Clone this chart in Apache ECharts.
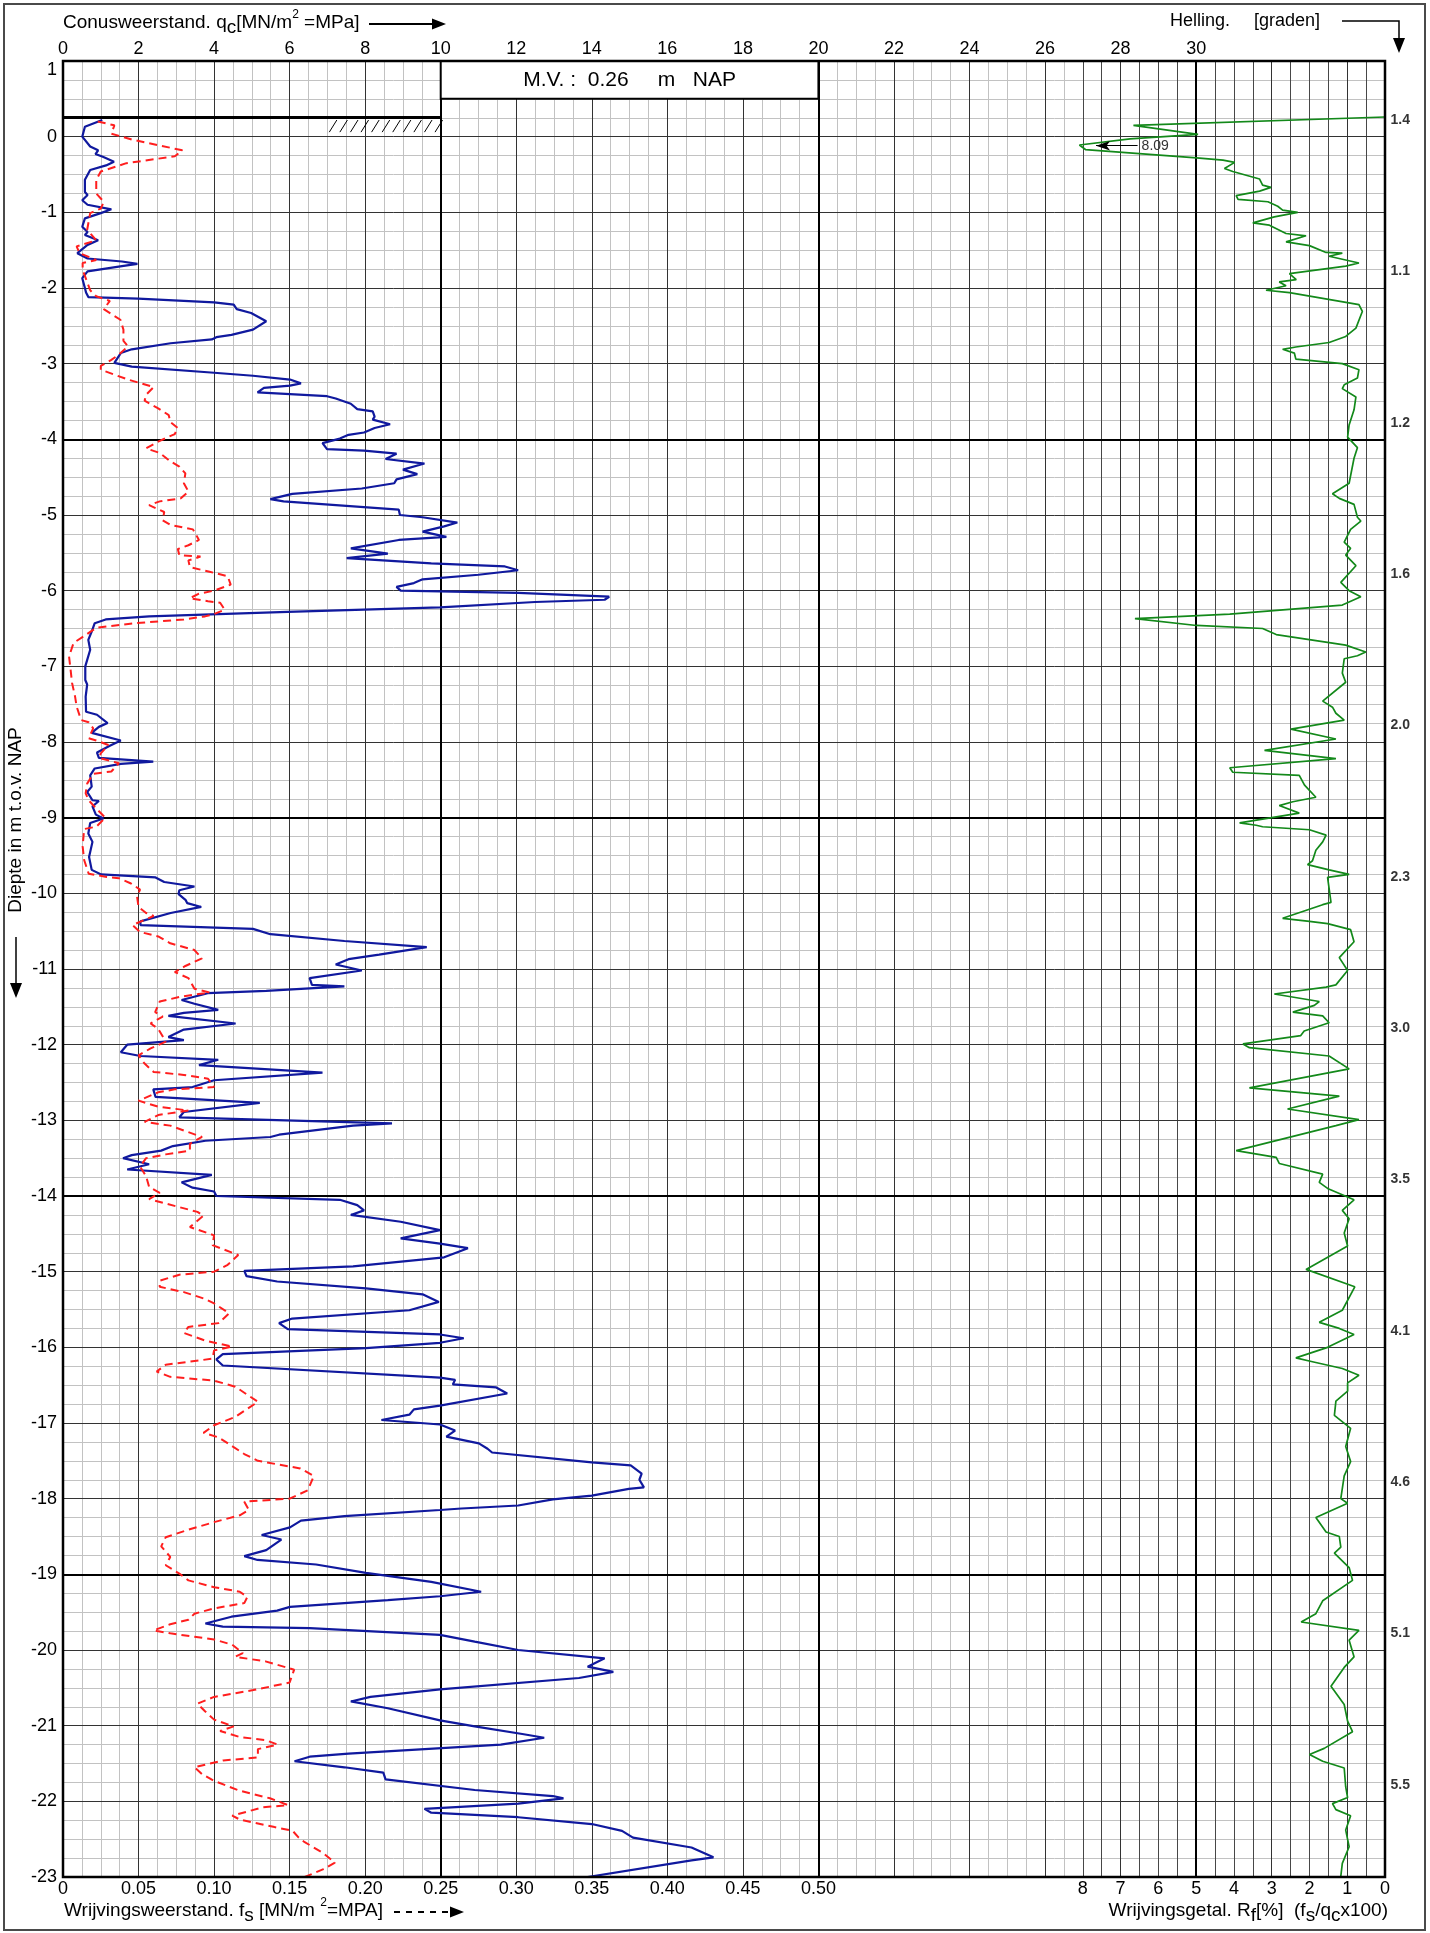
<!DOCTYPE html>
<html>
<head>
<meta charset="utf-8">
<title>Sondering</title>
<script src="https://cdn.jsdelivr.net/npm/echarts@6/dist/echarts.min.js"></script>
<style>
  html, body { margin: 0; padding: 0; background: #fff; }
  #chart { width: 1430px; height: 1933px; }
</style>
</head>
<body>
<div id="chart"></div>
<script>
var mvLevel = 0.26;            // maaiveld, m NAP
var qcLabelMax = 30;           // top scale is labelled 0..30
var fsLabelMax = 0.5;          // bottom fs scale is labelled 0..0.50
var rfLabelMax = 8;            // bottom Rf scale is labelled 8..0
var boldDepths = [-4, -9, -14, -19];

// conusweerstand qc [MPa]
var qcDepth = [
  0.22, 0.13, 0.00, -0.13, -0.18, -0.23, -0.27, -0.33, -0.38, -0.44,
  -0.57, -0.73, -0.77, -0.84, -0.90, -0.96, -1.01, -1.08, -1.19, -1.26,
  -1.30, -1.37, -1.43, -1.54, -1.61, -1.65, -1.68, -1.71, -1.78, -1.87,
  -2.00, -2.06, -2.12, -2.14, -2.19, -2.22, -2.28, -2.33, -2.44, -2.55,
  -2.62, -2.65, -2.68, -2.73, -2.81, -2.86, -2.99, -3.04, -3.12, -3.16,
  -3.21, -3.26, -3.29, -3.32, -3.38, -3.43, -3.46, -3.53, -3.60, -3.63,
  -3.70, -3.74, -3.80, -3.85, -3.91, -3.94, -3.99, -4.05, -4.13, -4.15,
  -4.19, -4.26, -4.32, -4.40, -4.46, -4.53, -4.58, -4.65, -4.72, -4.79,
  -4.82, -4.93, -5.00, -5.03, -5.10, -5.15, -5.22, -5.29, -5.33, -5.44,
  -5.51, -5.57, -5.64, -5.68, -5.73, -5.79, -5.85, -5.90, -5.95, -6.00,
  -6.03, -6.08, -6.12, -6.15, -6.22, -6.28, -6.34, -6.38, -6.43, -6.54,
  -6.65, -6.78, -7.00, -7.18, -7.24, -7.40, -7.60, -7.64, -7.75, -7.80,
  -7.88, -7.98, -8.05, -8.14, -8.21, -8.26, -8.29, -8.35, -8.44, -8.59,
  -8.66, -8.77, -8.78, -8.85, -8.96, -9.01, -9.07, -9.21, -9.32, -9.52,
  -9.69, -9.75, -9.79, -9.85, -9.91, -9.96, -10.01, -10.09, -10.13, -10.18,
  -10.26, -10.37, -10.42, -10.47, -10.54, -10.63, -10.71, -10.81, -10.87, -10.94,
  -11.02, -11.12, -11.21, -11.23, -11.29, -11.32, -11.41, -11.46, -11.54, -11.58,
  -11.62, -11.72, -11.80, -11.90, -11.94, -12.00, -12.10, -12.15, -12.20, -12.27,
  -12.37, -12.47, -12.56, -12.59, -12.69, -12.77, -12.89, -12.96, -13.04, -13.07,
  -13.19, -13.22, -13.27, -13.34, -13.40, -13.46, -13.50, -13.58, -13.65, -13.72,
  -13.82, -13.89, -13.94, -14.00, -14.05, -14.12, -14.19, -14.25, -14.34, -14.45,
  -14.56, -14.63, -14.69, -14.81, -14.93, -14.99, -15.06, -15.13, -15.22, -15.30,
  -15.40, -15.51, -15.62, -15.68, -15.76, -15.83, -15.88, -15.94, -16.01, -16.09,
  -16.16, -16.24, -16.40, -16.43, -16.49, -16.53, -16.61, -16.77, -16.82, -16.89,
  -16.96, -17.02, -17.10, -17.18, -17.27, -17.34, -17.39, -17.52, -17.56, -17.67,
  -17.75, -17.85, -17.87, -17.96, -18.01, -18.09, -18.13, -18.15, -18.23, -18.29,
  -18.38, -18.48, -18.54, -18.68, -18.76, -18.81, -18.87, -18.98, -19.10, -19.23,
  -19.29, -19.34, -19.43, -19.48, -19.56, -19.65, -19.69, -19.71, -19.80, -19.89,
  -20.00, -20.11, -20.22, -20.29, -20.37, -20.52, -20.62, -20.68, -20.77, -20.93,
  -21.01, -21.11, -21.16, -21.25, -21.37, -21.41, -21.47, -21.55, -21.62, -21.71,
  -21.85, -21.93, -21.96, -22.03, -22.10, -22.15, -22.21, -22.30, -22.39, -22.48,
  -22.61, -22.74, -22.78, -23.00
];
var qcValue = [
  1.04, 0.58, 0.51, 0.72, 0.93, 0.86, 1.07, 1.35, 1.14, 0.72,
  0.58, 0.58, 0.65, 0.51, 0.65, 1.28, 1.00, 0.58, 0.51, 0.65,
  0.58, 0.93, 0.65, 0.38, 0.65, 1.56, 1.97, 1.56, 0.65, 0.51,
  0.58, 0.61, 0.67, 1.99, 4.00, 4.52, 4.60, 4.98, 5.38, 5.03,
  4.46, 4.06, 3.94, 2.85, 1.82, 1.53, 1.36, 1.82, 4.00, 5.03,
  6.01, 6.30, 6.01, 5.32, 5.15, 6.99, 7.22, 7.62, 7.79, 8.20,
  8.25, 8.20, 8.66, 8.25, 7.97, 7.56, 7.33, 6.87, 6.99, 7.97,
  8.83, 8.54, 9.57, 9.00, 9.38, 8.83, 8.77, 7.91, 6.07, 5.49,
  5.84, 8.89, 8.92, 9.52, 10.44, 10.09, 9.52, 10.15, 8.89, 7.62,
  8.60, 7.51, 9.75, 11.70, 12.05, 11.00, 9.52, 9.29, 8.83, 8.94,
  12.05, 14.46, 14.34, 12.50, 9.98, 5.95, 2.28, 1.13, 0.84, 0.76,
  0.67, 0.72, 0.59, 0.59, 0.64, 0.60, 0.61, 0.90, 1.18, 0.95,
  0.76, 1.53, 1.24, 0.90, 0.95, 2.39, 1.53, 0.84, 0.72, 0.76,
  0.64, 0.78, 0.95, 0.78, 0.87, 1.07, 0.72, 0.67, 0.78, 0.69,
  0.76, 1.01, 2.45, 2.68, 3.48, 3.08, 3.06, 3.25, 3.29, 3.66,
  2.85, 2.05, 2.05, 5.03, 5.49, 7.45, 9.63, 8.37, 7.56, 7.22,
  7.91, 6.53, 6.59, 7.45, 5.38, 3.83, 3.14, 3.48, 4.11, 3.20,
  2.79, 4.57, 3.20, 2.79, 3.20, 1.70, 1.53, 2.05, 4.11, 3.60,
  6.87, 4.00, 3.43, 2.39, 2.45, 5.21, 3.20, 3.08, 8.71, 7.68,
  5.72, 5.49, 3.77, 2.91, 2.60, 1.82, 1.59, 2.28, 1.70, 3.94,
  3.14, 3.43, 4.00, 4.06, 7.33, 7.79, 7.97, 7.62, 8.94, 9.98,
  8.94, 9.98, 10.72, 10.09, 7.68, 4.80, 4.86, 5.67, 8.02, 9.52,
  9.95, 9.17, 6.07, 5.72, 5.95, 9.98, 10.61, 9.98, 8.02, 4.23,
  4.06, 4.23, 9.98, 10.38, 10.32, 11.47, 11.76, 9.98, 9.29, 9.17,
  8.43, 9.98, 10.38, 10.15, 11.01, 11.24, 11.36, 14.00, 15.03, 15.32,
  15.26, 15.38, 14.98, 14.00, 12.97, 12.05, 10.55, 9.98, 7.45, 6.30,
  6.01, 5.26, 5.78, 5.38, 4.80, 5.15, 6.70, 8.02, 9.75, 11.07,
  9.98, 8.60, 6.01, 5.67, 4.46, 3.77, 4.23, 6.53, 9.98, 10.90,
  12.05, 14.34, 13.89, 14.57, 13.66, 9.98, 8.14, 7.62, 8.60, 9.98,
  10.90, 12.16, 12.74, 11.59, 7.56, 6.53, 6.13, 7.45, 8.48, 8.54,
  10.90, 12.97, 13.25, 12.05, 9.57, 9.75, 12.05, 14.00, 14.80, 15.09,
  16.64, 17.22, 16.64, 13.89
];

// wrijvingsweerstand fs [MPa]
var fsDepth = [
  0.20, 0.15, 0.04, -0.04, -0.18, -0.26, -0.35, -0.46, -0.57, -0.75,
  -0.86, -0.95, -1.01, -1.23, -1.37, -1.45, -1.54, -1.63, -1.67, -1.76,
  -2.03, -2.11, -2.17, -2.28, -2.42, -2.55, -2.70, -2.77, -2.88, -2.95,
  -3.03, -3.08, -3.21, -3.31, -3.41, -3.49, -3.59, -3.68, -3.77, -3.85,
  -3.93, -4.03, -4.12, -4.18, -4.29, -4.36, -4.45, -4.58, -4.69, -4.78,
  -4.82, -4.87, -4.96, -5.07, -5.13, -5.19, -5.33, -5.40, -5.45, -5.53,
  -5.55, -5.60, -5.69, -5.75, -5.81, -5.92, -6.00, -6.04, -6.10, -6.14,
  -6.16, -6.25, -6.31, -6.34, -6.38, -6.43, -6.49, -6.60, -6.69, -6.87,
  -7.04, -7.22, -7.40, -7.53, -7.71, -7.74, -7.82, -7.95, -7.98, -8.04,
  -8.15, -8.21, -8.28, -8.39, -8.42, -8.55, -8.68, -8.77, -8.88, -9.00,
  -9.12, -9.15, -9.38, -9.56, -9.74, -9.78, -9.80, -9.87, -9.95, -10.04,
  -10.18, -10.26, -10.30, -10.35, -10.42, -10.51, -10.57, -10.66, -10.75, -10.86,
  -10.96, -11.04, -11.12, -11.26, -11.31, -11.37, -11.43, -11.57, -11.63, -11.72,
  -11.79, -11.96, -12.05, -12.14, -12.25, -12.36, -12.40, -12.45, -12.56, -12.59,
  -12.63, -12.74, -12.82, -12.87, -12.93, -13.02, -13.07, -13.22, -13.31, -13.40,
  -13.45, -13.50, -13.61, -13.74, -13.88, -13.96, -14.04, -14.10, -14.21, -14.26,
  -14.41, -14.52, -14.65, -14.78, -14.91, -15.00, -15.04, -15.12, -15.20, -15.27,
  -15.36, -15.42, -15.55, -15.68, -15.73, -15.81, -15.91, -15.99, -16.04, -16.15,
  -16.23, -16.32, -16.39, -16.44, -16.52, -16.72, -16.92, -17.03, -17.13, -17.19,
  -17.32, -17.41, -17.50, -17.60, -17.70, -17.89, -18.00, -18.04, -18.15, -18.22,
  -18.31, -18.41, -18.51, -18.63, -18.77, -18.88, -18.99, -19.08, -19.17, -19.23,
  -19.30, -19.38, -19.45, -19.52, -19.60, -19.66, -19.74, -19.78, -19.86, -19.93,
  -20.04, -20.09, -20.15, -20.26, -20.43, -20.53, -20.62, -20.71, -20.81, -20.92,
  -21.01, -21.07, -21.15, -21.19, -21.25, -21.31, -21.42, -21.46, -21.55, -21.64,
  -21.73, -21.86, -21.96, -22.05, -22.08, -22.19, -22.24, -22.34, -22.39, -22.48,
  -22.54, -22.68, -22.81, -22.90, -23.00
];
var fsValue = [
  0.023, 0.034, 0.032, 0.046, 0.079, 0.074, 0.042, 0.025, 0.022, 0.022,
  0.027, 0.025, 0.018, 0.016, 0.022, 0.009, 0.011, 0.022, 0.013, 0.013,
  0.018, 0.022, 0.031, 0.027, 0.038, 0.040, 0.040, 0.043, 0.037, 0.032,
  0.025, 0.025, 0.043, 0.060, 0.055, 0.054, 0.063, 0.070, 0.071, 0.076,
  0.074, 0.063, 0.055, 0.064, 0.071, 0.077, 0.081, 0.080, 0.083, 0.078,
  0.064, 0.057, 0.067, 0.066, 0.071, 0.086, 0.090, 0.083, 0.076, 0.077,
  0.091, 0.083, 0.084, 0.097, 0.109, 0.111, 0.100, 0.090, 0.084, 0.096,
  0.104, 0.107, 0.100, 0.094, 0.080, 0.048, 0.022, 0.014, 0.007, 0.004,
  0.005, 0.006, 0.008, 0.009, 0.012, 0.017, 0.020, 0.017, 0.022, 0.030,
  0.025, 0.024, 0.037, 0.032, 0.020, 0.016, 0.015, 0.017, 0.022, 0.028,
  0.022, 0.014, 0.013, 0.014, 0.017, 0.028, 0.037, 0.045, 0.051, 0.049,
  0.050, 0.055, 0.060, 0.054, 0.046, 0.051, 0.063, 0.071, 0.087, 0.092,
  0.081, 0.074, 0.083, 0.087, 0.097, 0.077, 0.064, 0.061, 0.066, 0.058,
  0.063, 0.068, 0.058, 0.050, 0.054, 0.060, 0.080, 0.096, 0.100, 0.074,
  0.063, 0.050, 0.063, 0.083, 0.063, 0.054, 0.071, 0.092, 0.084, 0.084,
  0.068, 0.055, 0.051, 0.055, 0.057, 0.064, 0.057, 0.068, 0.089, 0.093,
  0.084, 0.100, 0.099, 0.116, 0.109, 0.100, 0.077, 0.064, 0.064, 0.080,
  0.094, 0.100, 0.110, 0.103, 0.083, 0.080, 0.094, 0.112, 0.100, 0.099,
  0.068, 0.062, 0.071, 0.100, 0.114, 0.129, 0.114, 0.100, 0.093, 0.103,
  0.113, 0.120, 0.129, 0.157, 0.166, 0.162, 0.150, 0.120, 0.123, 0.117,
  0.100, 0.083, 0.068, 0.065, 0.071, 0.068, 0.077, 0.083, 0.100, 0.117,
  0.122, 0.120, 0.100, 0.087, 0.083, 0.071, 0.060, 0.071, 0.100, 0.112,
  0.119, 0.114, 0.134, 0.153, 0.150, 0.126, 0.100, 0.089, 0.094, 0.100,
  0.113, 0.104, 0.117, 0.134, 0.142, 0.129, 0.129, 0.106, 0.087, 0.092,
  0.100, 0.117, 0.137, 0.149, 0.132, 0.112, 0.117, 0.140, 0.152, 0.156,
  0.160, 0.172, 0.180, 0.172, 0.160
];

// wrijvingsgetal Rf [%]
var rfDepth = [
  0.26, 0.15, 0.03, -0.03, -0.11, -0.17, -0.28, -0.31, -0.34, -0.42,
  -0.46, -0.56, -0.64, -0.67, -0.72, -0.78, -0.83, -0.86, -0.92, -0.97,
  -1.00, -1.06, -1.14, -1.17, -1.28, -1.31, -1.39, -1.44, -1.53, -1.54,
  -1.58, -1.67, -1.71, -1.81, -1.89, -1.92, -1.97, -2.03, -2.06, -2.22,
  -2.31, -2.53, -2.64, -2.72, -2.78, -2.81, -2.86, -2.94, -3.00, -3.08,
  -3.19, -3.28, -3.33, -3.44, -3.61, -3.81, -3.97, -4.11, -4.25, -4.58,
  -4.72, -4.78, -4.86, -5.03, -5.08, -5.19, -5.36, -5.44, -5.53, -5.67,
  -5.89, -6.00, -6.08, -6.19, -6.31, -6.37, -6.46, -6.50, -6.58, -6.72,
  -6.81, -6.86, -6.90, -7.09, -7.21, -7.46, -7.54, -7.62, -7.71, -7.83,
  -7.96, -8.11, -8.22, -8.34, -8.40, -8.44, -8.57, -8.73, -8.79, -8.84,
  -8.94, -9.07, -9.10, -9.12, -9.16, -9.23, -9.32, -9.43, -9.57, -9.62,
  -9.69, -9.75, -9.79, -10.12, -10.15, -10.33, -10.37, -10.40, -10.48, -10.64,
  -10.85, -11.02, -11.21, -11.24, -11.33, -11.43, -11.48, -11.57, -11.62, -11.71,
  -11.82, -11.88, -11.99, -12.04, -12.15, -12.32, -12.57, -12.68, -12.85, -12.99,
  -13.07, -13.40, -13.49, -13.57, -13.71, -13.82, -13.90, -14.05, -14.19, -14.30,
  -14.49, -14.66, -14.97, -15.20, -15.51, -15.67, -15.75, -15.83, -16.00, -16.14,
  -16.19, -16.28, -16.37, -16.47, -16.58, -16.71, -16.90, -17.07, -17.31, -17.51,
  -17.70, -18.00, -18.06, -18.25, -18.44, -18.50, -18.64, -18.72, -18.91, -19.08,
  -19.35, -19.52, -19.63, -19.74, -19.87, -20.09, -20.23, -20.48, -20.72, -20.94,
  -21.08, -21.30, -21.38, -21.47, -21.56, -21.81, -21.95, -22.03, -22.11, -22.19,
  -22.38, -22.60, -22.82, -22.99
];
var rfValue = [
  0.00, 6.66, 4.95, 6.75, 8.09, 7.93, 4.99, 4.29, 3.98, 4.25,
  4.03, 3.32, 3.24, 3.02, 3.32, 3.94, 3.89, 3.10, 2.84, 2.71,
  2.31, 2.93, 3.50, 3.06, 2.62, 2.09, 2.62, 2.00, 1.56, 1.13,
  1.48, 0.69, 1.04, 2.53, 2.35, 2.80, 2.62, 3.15, 2.53, 0.69,
  0.60, 0.77, 1.04, 1.48, 2.36, 2.71, 2.40, 2.36, 1.13, 0.69,
  0.73, 1.08, 1.13, 0.77, 0.82, 0.95, 0.99, 0.73, 0.82, 0.95,
  1.39, 1.21, 0.82, 0.73, 0.64, 0.91, 1.08, 0.91, 1.04, 0.77,
  1.17, 0.95, 0.64, 1.13, 4.11, 6.62, 4.99, 3.24, 2.88, 1.04,
  0.51, 0.73, 1.08, 1.13, 1.04, 1.65, 1.39, 1.30, 1.08, 2.49,
  1.30, 3.19, 1.30, 4.11, 4.03, 2.27, 2.13, 1.83, 2.44, 2.80,
  2.27, 3.85, 3.41, 3.24, 2.00, 1.56, 1.65, 1.83, 1.92, 2.05,
  1.48, 0.95, 1.52, 1.43, 1.65, 2.71, 2.00, 1.52, 0.91, 0.82,
  1.21, 0.99, 1.30, 1.56, 2.93, 1.74, 1.87, 2.44, 1.65, 1.48,
  2.14, 2.23, 3.76, 3.59, 1.48, 0.95, 3.59, 1.21, 2.58, 0.69,
  1.30, 3.94, 2.88, 2.80, 1.65, 1.74, 1.52, 0.82, 1.13, 0.95,
  1.08, 0.99, 2.09, 0.80, 1.13, 1.74, 1.21, 0.82, 1.52, 2.36,
  1.92, 1.13, 0.69, 0.99, 0.99, 1.30, 1.34, 0.91, 1.04, 0.91,
  1.08, 1.17, 0.99, 1.83, 1.56, 1.21, 1.17, 1.34, 0.95, 0.86,
  1.65, 1.83, 2.22, 0.69, 0.95, 0.82, 1.08, 1.43, 1.08, 0.99,
  0.86, 1.61, 2.00, 1.65, 1.08, 1.04, 0.99, 1.39, 1.30, 0.91,
  1.04, 0.95, 1.13, 1.17
];
var rfPeak = 8.09;
var rfPeakDepth = -0.12;

// helling [graden], printed right of the plot
var hellingDepth = [0.22, -1.78, -3.78, -5.78, -7.78, -9.78, -11.78, -13.78, -15.78, -17.78, -19.78, -21.78];
var hellingValue = [1.4, 1.1, 1.2, 1.6, 2.0, 2.3, 3.0, 3.5, 4.1, 4.6, 5.1, 5.5];

// ---- layout ----
var FONT = "'Liberation Sans', Arial, Helvetica, sans-serif";
var QC_MAX = 35;     // paper width in qc units; Rf runs the same span reversed
var FS_SCALE = 40;   // 0.05 MPa fs = 2 MPa qc on the sheet

function zip(xs, ys) {
  var out = [];
  var n = Math.min(xs.length, ys.length);
  for (var i = 0; i < n; i++) out.push([xs[i], ys[i]]);
  return out;
}

// thin vertical lines every 0.5; in the Rf part all of them are dark
var minorColors = [];
for (var i = 0; i <= QC_MAX * 2; i++) {
  minorColors.push(i / 2 >= 27 ? '#474747' : '#c2c2c2');
}

var hatchData = [];
for (var h = 7.05; h < 9.9; h += 0.28) hatchData.push([h, mvLevel]);

var labelStyle = { color: '#000', fontSize: 18, fontFamily: FONT };
function makeRich(size) {
  return {
    a: { fontSize: size, lineHeight: 28, fontFamily: FONT, fontWeight: 'normal', color: '#000' },
    s: { fontSize: size, lineHeight: size, verticalAlign: 'bottom', fontFamily: FONT, fontWeight: 'normal', color: '#000' },
    p: { fontSize: 12, lineHeight: 12, verticalAlign: 'top', fontFamily: FONT, fontWeight: 'normal', color: '#000' }
  };
}
function titleAt(pos, text, size) {
  var t = { text: text, padding: 0, textStyle: { rich: makeRich(size), fontFamily: FONT, fontWeight: 'normal', fontSize: size, color: '#000' } };
  for (var k in pos) t[k] = pos[k];
  return t;
}
function noAxisLine() { return { show: false, onZero: false }; }

var chart = echarts.init(document.getElementById('chart'));

var option = {
  animation: false,
  backgroundColor: '#fff',
  textStyle: { fontFamily: FONT },
  title: [
    titleAt({ left: 63, top: 9 }, '{a|Conusweerstand. q}{s|c}{a|[MN/m}{p|2}{a| =MPa]}', 19),
    titleAt({ left: 1170, top: 7 }, '{a|Helling.}', 18),
    titleAt({ left: 1254, top: 7 }, '{a|[graden]}', 18),
    titleAt({ left: 64, top: 1897 }, '{a|Wrijvingsweerstand. f}{s|s}{a| [MN/m }{p|2}{a|=MPA]}', 19),
    titleAt({ right: 42, top: 1897 }, '{a|Wrijvingsgetal. R}{s|f}{a|[%]  (f}{s|s}{a|/q}{s|c}{a|x100)}', 19)
  ],
  grid: {
    left: 63, right: 45, top: 61, bottom: 56,
    show: true, z: 10,
    backgroundColor: 'rgba(0,0,0,0)',
    borderColor: '#000', borderWidth: 2.5,
    outerBoundsMode: 'none'
  },
  xAxis: [
    { // qc, labelled on top
      type: 'value', position: 'top', min: 0, max: QC_MAX, interval: 2, z: 1,
      axisLine: noAxisLine(), axisTick: { show: false },
      axisLabel: Object.assign({ margin: 3, formatter: function (v) { return v <= qcLabelMax ? String(v) : ''; } }, labelStyle),
      splitLine: { show: true, lineStyle: { color: '#333', width: 1 } }
    },
    { // fine grid
      type: 'value', position: 'top', min: 0, max: QC_MAX, interval: 0.5, z: 0,
      axisLine: noAxisLine(), axisTick: { show: false }, axisLabel: { show: false },
      splitLine: { show: true, lineStyle: { color: minorColors, width: 1 } }
    },
    { // heavy lines every 10 MPa
      type: 'value', position: 'top', min: 0, max: QC_MAX, interval: 10, z: 2,
      axisLine: noAxisLine(), axisTick: { show: false }, axisLabel: { show: false },
      splitLine: { show: true, lineStyle: { color: '#000', width: 2 } }
    },
    { // fs
      type: 'value', position: 'bottom', min: 0, max: QC_MAX / FS_SCALE, interval: 0.05,
      axisLine: noAxisLine(), axisTick: { show: false },
      axisLabel: Object.assign({ margin: 3, formatter: function (v) {
        if (v > fsLabelMax + 1e-9) return '';
        return v === 0 ? '0' : v.toFixed(2);
      } }, labelStyle),
      splitLine: { show: false }
    },
    { // Rf, reversed from the right edge
      type: 'value', position: 'bottom', inverse: true, min: 0, max: QC_MAX, interval: 1,
      axisLine: noAxisLine(), axisTick: { show: false },
      axisLabel: Object.assign({ margin: 3, formatter: function (v) { return v <= rfLabelMax ? String(v) : ''; } }, labelStyle),
      splitLine: { show: false }
    }
  ],
  yAxis: [
    {
      type: 'value', min: -23, max: 1, interval: 1, z: 1,
      axisLine: noAxisLine(), axisTick: { show: false },
      axisLabel: Object.assign({ margin: 6, padding: [0, 0, 6, 0], verticalAlignMaxLabel: 'top' }, labelStyle),
      splitLine: { show: true, lineStyle: { color: '#333', width: 1 } }
    },
    {
      type: 'value', min: -23, max: 1, interval: 0.25, z: 0,
      axisLine: noAxisLine(), axisTick: { show: false }, axisLabel: { show: false },
      splitLine: { show: true, lineStyle: { color: '#c2c2c2', width: 1 } }
    }
  ],
  series: [
    {
      name: 'qc', type: 'line', xAxisIndex: 0, yAxisIndex: 0, z: 3,
      data: zip(qcValue, qcDepth),
      showSymbol: false, symbol: 'none',
      lineStyle: { color: '#10199e', width: 2.2 },
      markLine: {
        silent: true, symbol: ['none', 'none'], z: 5,
        label: { show: false },
        lineStyle: { color: '#000', width: 3, type: 'solid' },
        data: [[{ coord: [0, mvLevel] }, { coord: [10, mvLevel] }]]
      },
      markArea: {
        silent: true, z: 2.5,
        itemStyle: { color: '#fff', borderColor: '#000', borderWidth: 2 },
        label: {
          show: true, position: 'inside', color: '#000', fontSize: 21, fontFamily: FONT,
          formatter: 'M.V. :  ' + mvLevel.toFixed(2) + '     m   NAP'
        },
        data: [[{ coord: [10, 0.5] }, { coord: [20, 1] }]]
      }
    },
    {
      name: 'fs', type: 'line', xAxisIndex: 3, yAxisIndex: 0, z: 3,
      data: zip(fsValue, fsDepth),
      showSymbol: false, symbol: 'none',
      lineStyle: { color: '#ff1e1e', width: 2, type: [8, 5] },
      markLine: {
        silent: true, symbol: ['none', 'none'], z: 2,
        label: { show: false },
        lineStyle: { color: '#000', width: 2, type: 'solid' },
        data: boldDepths.map(function (d) { return { yAxis: d }; })
      }
    },
    {
      name: 'Rf', type: 'line', xAxisIndex: 4, yAxisIndex: 0, z: 3,
      data: zip(rfValue, rfDepth),
      showSymbol: false, symbol: 'none',
      lineStyle: { color: '#13891a', width: 1.7 },
      markLine: {
        silent: true, symbol: ['none', 'arrow'], symbolSize: [7, 14], z: 5,
        lineStyle: { color: '#000', width: 1, type: 'solid' },
        label: { show: true, position: 'start', distance: 4, formatter: rfPeak.toFixed(2), color: '#333', fontSize: 14, fontFamily: FONT },
        data: [[{ coord: [6.55, rfPeakDepth] }, { coord: [7.65, rfPeakDepth] }]]
      }
    },
    {
      name: 'helling', type: 'scatter', xAxisIndex: 0, yAxisIndex: 0, z: 4,
      clip: false, symbolSize: 1, itemStyle: { color: 'rgba(0,0,0,0)' },
      data: hellingDepth.map(function (d, i) { return [QC_MAX, d, hellingValue[i]]; }),
      label: {
        show: true, position: 'right', distance: 5,
        formatter: function (p) { return p.value[2].toFixed(1); },
        color: '#000', fontWeight: 'bold', fontSize: 14, fontFamily: FONT
      }
    },
    {
      name: 'hatch', type: 'custom', xAxisIndex: 0, yAxisIndex: 0, z: 3,
      silent: true, data: hatchData,
      renderItem: function (params, api) {
        var x = api.value(0);
        var p1 = api.coord([x, api.value(1) - 0.2]);
        var p2 = api.coord([x + 0.2, api.value(1) - 0.04]);
        return {
          type: 'line',
          shape: { x1: p1[0], y1: p1[1], x2: p2[0], y2: p2[1] },
          style: { stroke: '#000', lineWidth: 1 }
        };
      }
    }
  ],
  graphic: [
    { type: 'rect', z: 20, silent: true, shape: { x: 4, y: 4, width: 1421, height: 1926 }, style: { fill: 'none', stroke: '#4a4a4a', lineWidth: 2 } },
    // arrow after the qc title
    { type: 'line', z: 20, silent: true, shape: { x1: 369, y1: 24, x2: 434, y2: 24 }, style: { stroke: '#000', lineWidth: 2 } },
    { type: 'polygon', z: 20, silent: true, shape: { points: [[432, 18.5], [446, 24], [432, 29.5]] }, style: { fill: '#000' } },
    // helling arrow
    { type: 'polyline', z: 20, silent: true, shape: { points: [[1342, 21], [1399, 21], [1399, 40]] }, style: { stroke: '#000', lineWidth: 1.5, fill: 'none' } },
    { type: 'polygon', z: 20, silent: true, shape: { points: [[1393, 38], [1405, 38], [1399, 53]] }, style: { fill: '#000' } },
    // dashed arrow after the fs title
    { type: 'line', z: 20, silent: true, shape: { x1: 394, y1: 1912, x2: 452, y2: 1912 }, style: { stroke: '#000', lineWidth: 2, lineDash: [6, 6] } },
    { type: 'polygon', z: 20, silent: true, shape: { points: [[450, 1906.5], [464, 1912], [450, 1917.5]] }, style: { fill: '#000' } },
    // depth label on the left
    {
      type: 'text', z: 20, silent: true, x: 16, y: 820, rotation: Math.PI / 2,
      style: { text: 'Diepte in m t.o.v. NAP', font: '19px ' + FONT, fill: '#000', align: 'center', verticalAlign: 'middle' }
    },
    { type: 'line', z: 20, silent: true, shape: { x1: 16, y1: 937, x2: 16, y2: 986 }, style: { stroke: '#000', lineWidth: 1.5 } },
    { type: 'polygon', z: 20, silent: true, shape: { points: [[10, 983], [22, 983], [16, 998]] }, style: { fill: '#000' } }
  ]
};

chart.setOption(option);
</script>
</body>
</html>
